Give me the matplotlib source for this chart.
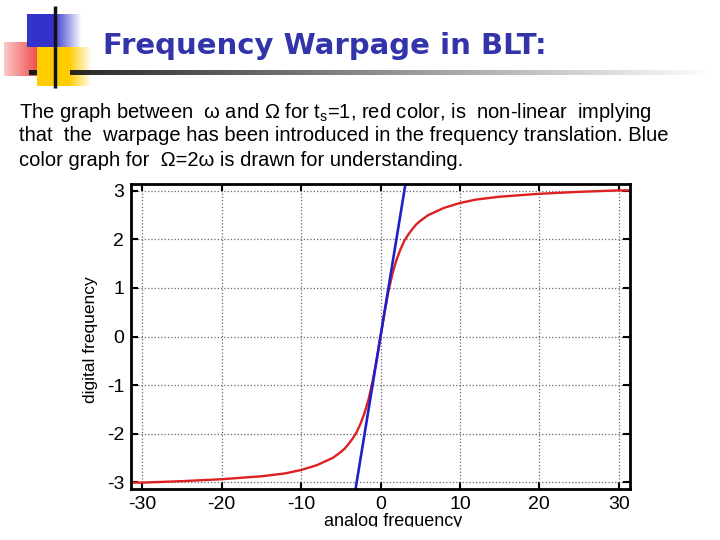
import numpy as np
import matplotlib.pyplot as plt
from matplotlib.patches import Rectangle

plt.rcParams['font.family'] = ['Liberation Sans', 'DejaVu Sans']
plt.rcParams['mathtext.default'] = 'regular'
plt.rcParams['axes.unicode_minus'] = False

# red curve: digital frequency vs analog frequency (ts = 1)
analog = [-31.4, -30, -25, -20, -15, -12, -10, -8, -6, -5, -4.5, -4, -3.5, -3,
          -2.5, -2, -1.5, -1, -0.5, 0, 0.5, 1, 1.5, 2, 2.5, 3, 3.5, 4, 4.5,
          5, 6, 8, 10, 12, 15, 20, 25, 30, 31.4]
digital = [-3.01, -3.01, -2.98, -2.94, -2.88, -2.82, -2.75, -2.65, -2.50, -2.38,
           -2.31, -2.21, -2.10, -1.97, -1.79, -1.57, -1.29, -0.93, -0.49, 0.0,
           0.49, 0.93, 1.29, 1.57, 1.79, 1.97, 2.10, 2.21, 2.31, 2.38, 2.50,
           2.65, 2.75, 2.82, 2.88, 2.94, 2.98, 3.01, 3.01]

# blue reference line
ref_x = [-3.3, 3.3]
ref_y = [-3.3, 3.3]

xticks = [-30, -20, -10, 0, 10, 20, 30]
yticks = [-3, -2, -1, 0, 1, 2, 3]

title = 'Frequency Warpage in BLT:'
body = ['The graph between  \u03c9 and \u03a9 for t$_s$=1, red color, is  non-linear  implying',
        'that  the  warpage has been introduced in the frequency translation. Blue',
        'color graph for  \u03a9=2\u03c9 is drawn for understanding.']

W, H = 720, 540
fig = plt.figure(figsize=(7.2, 5.4), dpi=100)

# slide header decoration (pixel coords, y down)
hd = fig.add_axes([0, 1 - 95 / H, 1, 95 / H])
hd.set_xlim(0, W)
hd.set_ylim(95, 0)
hd.axis('off')

def fade(color, a0, a1, n=64):
    rgba = np.zeros((1, n, 4))
    rgba[..., :3] = color
    rgba[..., 3] = np.linspace(a0, a1, n)
    return rgba

blue = (0.2, 0.2, 0.8)
yellow = (1.0, 0.8, 0.0)
red = (0.93, 0.13, 0.13)
hd.add_patch(Rectangle((27, 14), 27, 33, color=blue, lw=0))
hd.imshow(fade(blue, 1, 0), extent=(53, 82, 47, 14), aspect='auto')
hd.add_patch(Rectangle((37, 47), 33, 39, color=yellow, lw=0))
hd.imshow(fade(yellow, 1, 0), extent=(69, 92, 86, 47), aspect='auto')
hd.imshow(fade(red, 0.25, 1), extent=(4, 50, 76, 42), aspect='auto')
hd.imshow(fade((0.1, 0.1, 0.1), 1, 0, n=256), extent=(29, 715, 75, 70), aspect='auto')
hd.plot([55, 55], [6, 88], color='#111111', lw=2.5, solid_capstyle='butt')

fig.text(103 / W, 1 - 46 / H, title, fontsize=21, fontweight='bold',
         color='#3333aa', family='DejaVu Sans', ha='left', va='center')
for i, line in enumerate(body):
    fig.text(19 / W, 1 - (112 + 24 * i) / H, line, fontsize=14.5,
             ha='left', va='center')

# plot
ax = fig.add_axes([131 / W, 1 - 489 / H, 499 / W, 305 / H])
ax.plot(analog, digital, color='#dd2020', lw=1.7)
ax.plot(ref_x, ref_y, color='#2020c8', lw=1.9)
ax.set_xlim(-31.42, 31.42)
ax.set_ylim(-3.1416, 3.1416)
ax.set_xticks(xticks)
ax.set_yticks(yticks)
ax.grid(True, linestyle=':', color='#666666', lw=0.9)
ax.tick_params(direction='in', top=True, right=True, length=5, width=1.5,
               labelsize=14, pad=5)
for s in ax.spines.values():
    s.set_linewidth(2)

fig.text(90 / W, 1 - 340 / H, 'digital frequency', rotation=90, fontsize=12.5,
         ha='center', va='center')
fig.text(393 / W, 1 - 513 / H, 'analog frequency', fontsize=13,
         ha='center', va='top')
# lower strip of slide is blank
fig.patches.append(Rectangle((0, 0), 1, 13 / H, transform=fig.transFigure,
                             color='white', zorder=10))

fig.savefig('out.png', dpi=100)
